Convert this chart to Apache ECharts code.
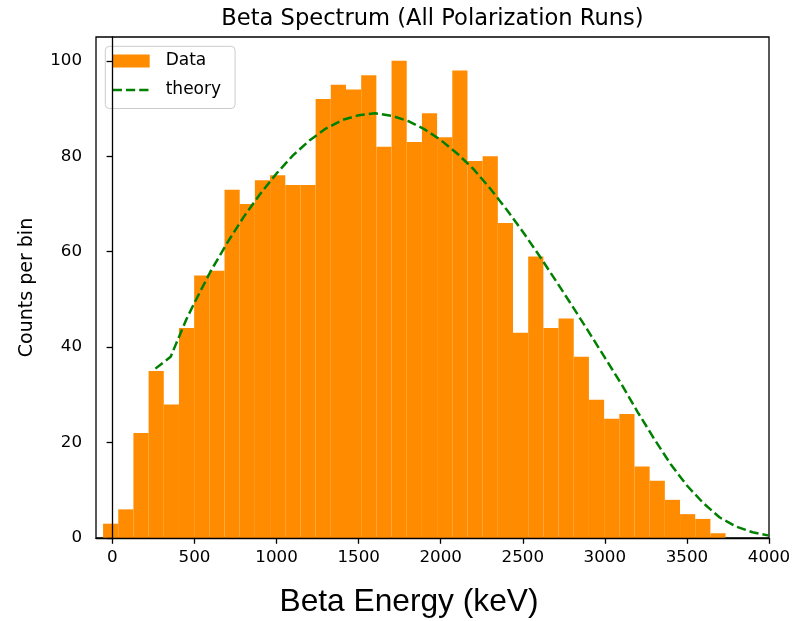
<!DOCTYPE html>
<html>
<head>
<meta charset="utf-8">
<script src="https://cdn.jsdelivr.net/npm/echarts@6/dist/echarts.min.js"></script>
<style>
html,body{margin:0;padding:0;background:#fff;}
#chart{width:805px;height:621px;}
</style>
</head>
<body>
<div id="chart"></div>
<script>
// Histogram bin edges (keV)
var binEdges = [-57, 35.5, 128, 220.5, 313, 405.5, 498, 590.5, 683, 775.5, 868, 960.5,
  1053, 1145.5, 1238, 1330.5, 1423, 1515.5, 1608, 1700.5, 1793, 1885.5, 1978, 2070.5,
  2163, 2255.5, 2348, 2440.5, 2533, 2625.5, 2718, 2810.5, 2903, 2995.5, 3088, 3180.5,
  3273, 3365.5, 3458, 3550.5, 3643, 3735.5];
// Counts per bin
var counts = [3, 6, 22, 35, 28, 44, 55, 56, 73, 70, 75, 76, 74, 74, 92, 95, 94, 97, 82, 100,
  83, 89, 84, 98, 79, 80, 66, 43, 59, 44, 46, 38, 29, 25, 26, 15, 12, 8, 5, 4, 1];
// Theory curve
var theoryX = [262, 355, 450, 500, 600, 700, 800, 900, 1000, 1100, 1200, 1300, 1400, 1500,
  1600, 1700, 1800, 1900, 2000, 2100, 2200, 2300, 2400, 2500, 2600, 2700, 2800, 2900,
  3000, 3100, 3200, 3300, 3400, 3500, 3600, 3700, 3800, 3900, 4000];
var theoryY = [35.5, 38.0, 45.8, 49.3, 56.0, 61.9, 67.3, 72.1, 76.4, 80.2, 83.3, 85.8, 87.6, 88.6,
  89.0, 88.5, 87.4, 85.7, 83.4, 80.6, 77.3, 73.3, 68.9, 64.2, 59.2, 54.0, 48.7, 43.3,
  37.8, 32.3, 26.4, 20.8, 15.5, 11.0, 7.3, 4.3, 2.4, 1.2, 0.5];
// Tick labels
var xTicks = [0, 500, 1000, 1500, 2000, 2500, 3000, 3500, 4000];
var yTicks = [0, 20, 40, 60, 80, 100];

var histData = counts.map(function (c, i) { return [binEdges[i], binEdges[i + 1], c]; });
var lineData = theoryX.map(function (x, i) { return [x, theoryY[i]]; });

var FONT = "'DejaVu Sans', sans-serif";
var dashIcon = 'path://M0,0h0.01v0.01h-0.01zM36.99,12.99h0.01v0.01h-0.01z' +
  'M0,5.25h9.25v2.5h-9.25zM13.25,5.25h9.25v2.5h-9.25zM26.5,5.25h9.25v2.5h-9.25z';
var plain = function (v) { return String(v); };

var chart = echarts.init(document.getElementById('chart'), null, {renderer: 'canvas'});
chart.setOption({
  animation: false,
  backgroundColor: '#fff',
  grid: {left: 96, right: 36, top: 37, bottom: 83, show: true, borderColor: '#000', borderWidth: 1.3, backgroundColor: 'transparent'},
  xAxis: {
    type: 'value', min: -100, max: 4000, z: 10,
    axisLine: {show: true, lineStyle: {color: '#000', width: 1.3}},
    axisTick: {show: true, customValues: xTicks, length: 5.8, lineStyle: {color: '#000', width: 1.3}},
    axisLabel: {customValues: xTicks, formatter: plain, margin: 11, color: '#000', fontFamily: FONT, fontSize: 16.7},
    splitLine: {show: false}
  },
  yAxis: {
    type: 'value', min: 0, max: 105, z: 10,
    axisLine: {show: true, lineStyle: {color: '#000', width: 1.3}},
    axisTick: {show: true, customValues: yTicks, length: 5.8, lineStyle: {color: '#000', width: 1.3}},
    axisLabel: {customValues: yTicks, formatter: plain, margin: 14, color: '#000', fontFamily: FONT, fontSize: 16.7},
    splitLine: {show: false}
  },
  legend: {
    orient: 'vertical', left: 105.3, top: 46.3,
    padding: [4.7, 14, 8.5, 7.4], itemGap: 9, itemWidth: 37, itemHeight: 13,
    backgroundColor: 'rgba(255,255,255,0.8)', borderColor: '#cccccc', borderWidth: 1, borderRadius: 4,
    textStyle: {fontFamily: FONT, fontSize: 17, color: '#000', lineHeight: 20, padding: [0, 0, 0, 11]},
    data: [{name: 'Data', icon: 'rect'}, {name: 'theory', icon: dashIcon, itemStyle: {color: '#008000'}}]
  },
  graphic: [
    {type: 'text', x: 432.5, y: 19, style: {text: 'Beta Spectrum (All Polarization Runs)', font: "22.6px 'DejaVu Sans'", fill: '#000', align: 'center', verticalAlign: 'middle'}},
    {type: 'text', x: 409, y: 602, style: {text: 'Beta Energy (keV)', font: "31.7px 'Liberation Sans'", fill: '#000', align: 'center', verticalAlign: 'middle'}},
    {type: 'text', x: 27, y: 287.5, rotation: Math.PI / 2, style: {text: 'Counts per bin', font: "19px 'DejaVu Sans'", fill: '#000', align: 'center', verticalAlign: 'middle'}}
  ],
  series: [
    {
      name: 'Data', type: 'custom', data: histData, encode: {x: [0, 1], y: 2},
      itemStyle: {color: '#ff8c00'},
      renderItem: function (params, api) {
        var p0 = api.coord([api.value(0), api.value(2)]);
        var p1 = api.coord([api.value(1), 0]);
        return {type: 'rect', shape: {x: p0[0], y: p0[1], width: p1[0] - p0[0], height: p1[1] - p0[1]}, style: {fill: '#ff8c00'}};
      }
    },
    {
      name: 'theory', type: 'line', data: lineData, symbol: 'none', showSymbol: false, smooth: false, z: 5,
      itemStyle: {color: '#008000'},
      lineStyle: {color: '#008000', width: 2.5, type: [9.25, 4]}
    }
  ]
});
</script>
</body>
</html>
